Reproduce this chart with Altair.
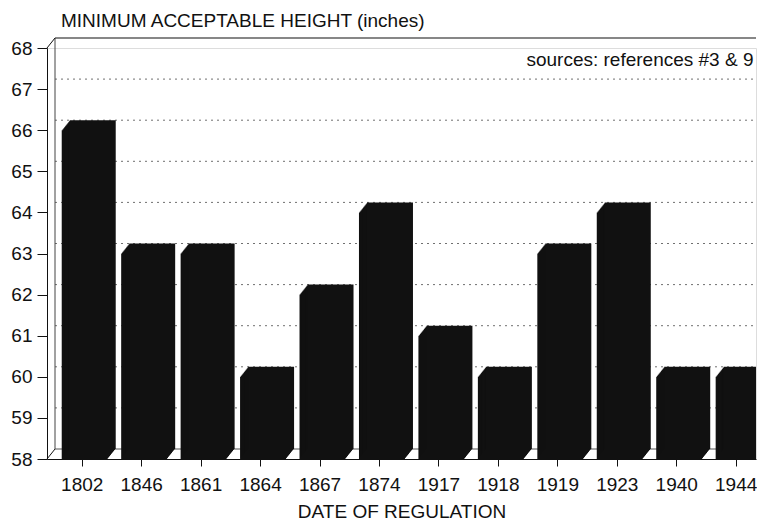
import altair as alt
import pandas as pd

# ---- data ----
years = ["1802", "1846", "1861", "1864", "1867", "1874",
         "1917", "1918", "1919", "1923", "1940", "1944"]
heights = [66, 63, 63, 60, 62, 64, 61, 60, 63, 64, 60, 60]
y_ticks = list(range(58, 69))
grid_values = list(range(59, 68))
y_min, y_max = 58, 68
note = "sources: references #3 & 9"

df = pd.DataFrame({"idx": list(range(len(years))), "year": years, "height": heights})
grid_df = pd.DataFrame({"g": grid_values})
one = pd.DataFrame({"k": [0]})

# ---- layout / style ----
W, H = 709, 411
STEP = 60.3
DX, DY = 8, 10          # depth of the 3-D effect in pixels
BAR_W = 46
FONT = "Liberation Sans"
FS = 19
INK = "#111111"

x_domain = [-0.5, (W - STEP / 2) / STEP]
label_expr = "[" + ",".join("'%s'" % y for y in years) + "][datum.value]"

X_AX = alt.Axis(values=list(range(len(years))), labelExpr=label_expr,
                title="DATE OF REGULATION", grid=False,
                domainColor=INK, tickColor=INK, tickSize=7,
                labelFontSize=FS, labelPadding=9, labelColor=INK,
                titleFontSize=FS, titleFontWeight="normal", titlePadding=8,
                titleColor=INK, labelFont=FONT, titleFont=FONT)
Y_AX = alt.Axis(values=y_ticks, title=None, grid=False,
                domainColor=INK, tickColor=INK, tickSize=10,
                labelFontSize=FS, labelPadding=5, labelColor=INK, labelFont=FONT)

X_ENC = alt.X("idx:Q", scale=alt.Scale(domain=x_domain, nice=False, zero=False), axis=X_AX)
Y_SCALE = alt.Scale(domain=[y_min, y_max], nice=False, zero=False)

layers = []

# back-wall dotted grid lines
layers.append(
    alt.Chart(grid_df).mark_rule(strokeDash=[2, 4], color="#707070", strokeWidth=1, yOffset=-DY)
    .encode(y=alt.Y("g:Q", scale=Y_SCALE, axis=Y_AX), x=alt.value(DX), x2=alt.value(W))
)
# back wall top line and back floor line
layers.append(
    alt.Chart(one).mark_rule(color=INK, strokeWidth=1.2, yOffset=-DY)
    .encode(y=alt.datum(y_max), x=alt.value(DX), x2=alt.value(W))
)
layers.append(
    alt.Chart(one).mark_rule(color="#555555", strokeWidth=1, yOffset=-DY)
    .encode(y=alt.datum(y_min), x=alt.value(DX), x2=alt.value(W))
)
# back wall vertical line
layers.append(
    alt.Chart(one).mark_rule(color="#444444", strokeWidth=1, yOffset=-DY, y2Offset=-DY)
    .encode(x=alt.value(DX), y=alt.datum(y_max), y2=alt.datum(y_min))
)
# slanted corners connecting front axis and back wall
for v in (y_max, y_min):
    layers.append(
        alt.Chart(one).mark_rule(color=INK, strokeWidth=1, y2Offset=-DY)
        .encode(x=alt.value(0), x2=alt.value(DX), y=alt.datum(v), y2=alt.datum(v))
    )

# 3-D bars: stacked copies shifted along the depth direction
N = 11
for i in range(N):
    layers.append(
        alt.Chart(df).mark_bar(width=BAR_W, color=INK, clip=True,
                               xOffset=3 + DX * i / (N - 1),
                               yOffset=-DY * i / (N - 1),
                               y2Offset=-DY * i / (N - 1))
        .encode(x=X_ENC,
                y=alt.Y("height:Q", scale=Y_SCALE, axis=Y_AX),
                y2=alt.datum(y_min))
    )

# source note
layers.append(
    alt.Chart(one).mark_text(text=note, align="right",
                             baseline="middle", font=FONT, fontSize=FS, color=INK)
    .encode(x=alt.datum(11.3), y=alt.datum(67.7))
)

chart = alt.layer(*layers).properties(
    width=W, height=H,
    title=alt.Title("MINIMUM ACCEPTABLE HEIGHT (inches)", anchor="start", frame="group",
                    dx=14, fontSize=FS, fontWeight="normal", font=FONT, color=INK, offset=6),
    padding={"left": 2, "top": 4, "right": 0, "bottom": 0},
).configure_view(stroke=None).configure(font=FONT)

chart.save("out.html", embed_options={"renderer": "svg", "actions": False})
